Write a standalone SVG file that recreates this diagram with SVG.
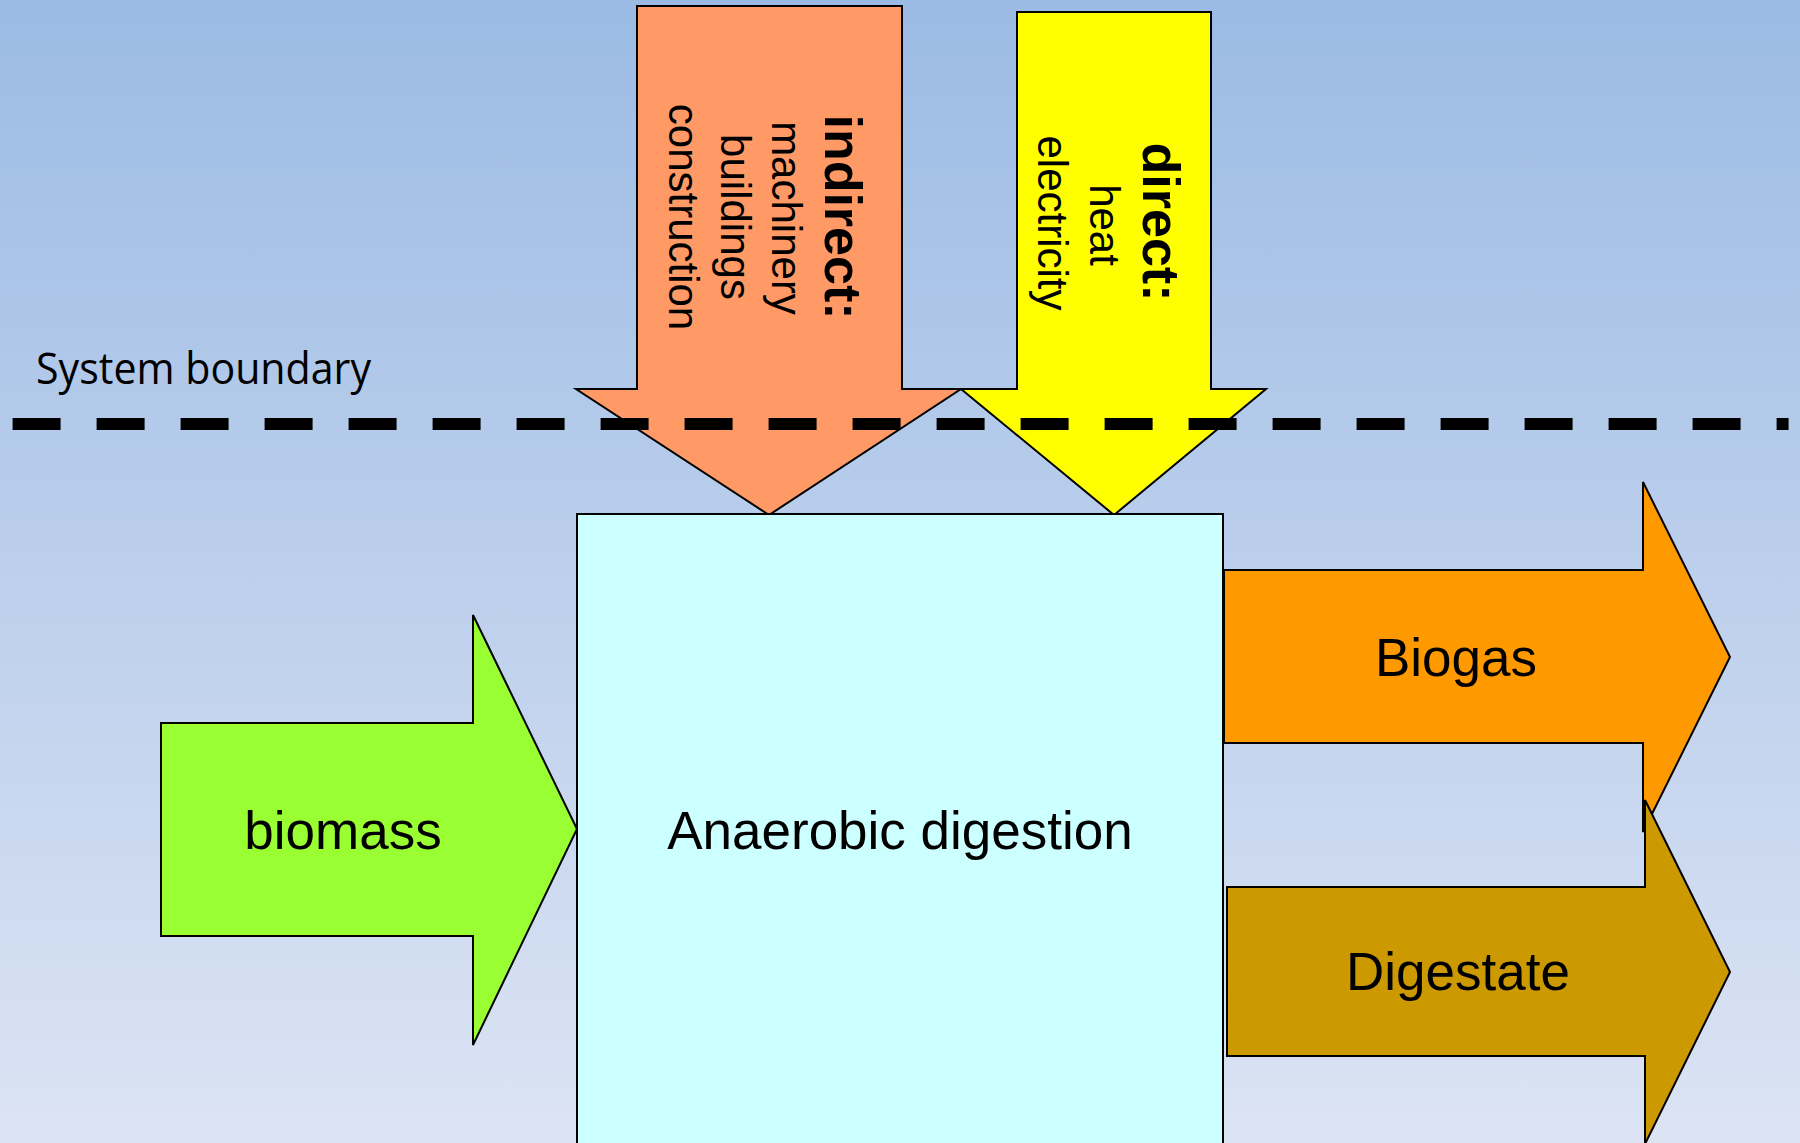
<svg xmlns="http://www.w3.org/2000/svg" width="1800" height="1143" viewBox="0 0 1800 1143">
  <defs>
    <linearGradient id="bg" x1="0" y1="0" x2="0" y2="1">
      <stop offset="0" stop-color="#9BBBE4"/>
      <stop offset="0.5" stop-color="#BCCFEC"/>
      <stop offset="1" stop-color="#DCE4F4"/>
    </linearGradient>
    <style>
      .shape { stroke: #000; stroke-width: 2; stroke-linejoin: miter; }
      .lbl { font-family: "Liberation Sans", Arial, sans-serif; font-size: 53px; fill: #000; text-anchor: middle; }
      .vt { font-family: "Liberation Sans", Arial, sans-serif; font-size: 42px; fill: #000; text-anchor: middle; }
      .vb { font-family: "Liberation Sans", Arial, sans-serif; font-size: 52px; font-weight: bold; fill: #000; text-anchor: middle; }
    </style>
  </defs>
  <rect x="0" y="0" width="1800" height="1143" fill="url(#bg)"/>

  <g id="indirect-input">
    <polygon class="shape" fill="#FF9966" points="637,6 902,6 902,389 961,389 769,515 576,389 637,389"/>
    <text class="vb" transform="translate(825,217) rotate(90)">indirect:</text>
    <text class="vt" transform="translate(772,218) rotate(90)">machinery</text>
    <text class="vt" transform="translate(721,217) rotate(90)">buildings</text>
    <text class="vt" transform="translate(669,217) rotate(90)">construction</text>
  </g>

  <g id="direct-input">
    <polygon class="shape" fill="#FFFF00" points="1017,12 1211,12 1211,389 1266,389 1114,515 961,389 1017,389"/>
    <text class="vb" transform="translate(1143,222) rotate(90)">direct:</text>
    <text class="vt" transform="translate(1090,225) rotate(90)">heat</text>
    <text class="vt" transform="translate(1038,223) rotate(90)">electricity</text>
  </g>

  <g id="system-boundary">
    <line x1="12.6" y1="424" x2="1788.6" y2="424" stroke="#000" stroke-width="12" stroke-dasharray="48 36"/>
    <text x="36" y="384" font-family="'Open Sans', 'Liberation Sans', sans-serif" font-size="43" fill="#000" textLength="335" lengthAdjust="spacingAndGlyphs">System boundary</text>
  </g>

  <g id="biomass">
    <polygon class="shape" fill="#99FF33" points="161,723 473,723 473,615 577,829 473,1045 473,936 161,936"/>
    <text class="lbl" x="343" y="849">biomass</text>
  </g>

  <g id="anaerobic-digestion">
    <rect class="shape" fill="#CCFFFF" x="577" y="514" width="646" height="640"/>
    <text class="lbl" x="900" y="849">Anaerobic digestion</text>
  </g>

  <g id="biogas">
    <polygon class="shape" fill="#FF9900" points="1224,570 1643,570 1643,482 1730,657 1643,832 1643,743 1224,743"/>
    <text class="lbl" x="1456" y="676">Biogas</text>
  </g>

  <g id="digestate">
    <polygon class="shape" fill="#CC9900" points="1227,887 1645,887 1645,800 1730,972 1645,1144 1645,1056 1227,1056"/>
    <text class="lbl" x="1458" y="990">Digestate</text>
  </g>

  <g id="connectors"></g>
</svg>
